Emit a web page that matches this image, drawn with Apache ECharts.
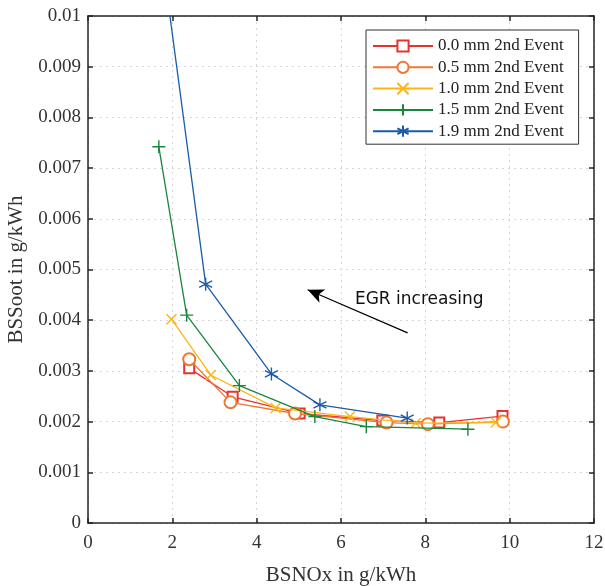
<!DOCTYPE html>
<html>
<head>
<meta charset="utf-8">
<script src="https://cdn.jsdelivr.net/npm/echarts@6/dist/echarts.min.js"></script>
<style>html,body{margin:0;padding:0;background:#fff}#c{width:605px;height:586px}</style>
</head>
<body>
<div id="c"></div>
<script>
const seriesNames = ['0.0 mm 2nd Event','0.5 mm 2nd Event','1.0 mm 2nd Event','1.5 mm 2nd Event','1.9 mm 2nd Event'];
const nox00 = [2.40, 3.43, 5.02, 6.98, 8.33, 9.83];
const soot00 = [0.00305, 0.00249, 0.00216, 0.00202, 0.00198, 0.00211];
const nox05 = [2.40, 3.38, 4.91, 7.08, 8.06, 9.84];
const soot05 = [0.00323, 0.00238, 0.00216, 0.00198, 0.00195, 0.00200];
const nox10 = [1.98, 2.91, 4.45, 6.21, 7.77, 9.67];
const soot10 = [0.00402, 0.00292, 0.00227, 0.00210, 0.00197, 0.00198];
const nox15 = [1.68, 2.34, 3.59, 5.38, 6.60, 9.01];
const soot15 = [0.00742, 0.00410, 0.00271, 0.00210, 0.00190, 0.00185];
const nox19 = [1.90, 2.79, 4.35, 5.50, 7.57];
const soot19 = [0.01027, 0.00471, 0.00294, 0.00233, 0.00207];
const arrowFrom = [7.58, 0.00375];
const arrowTo = [5.21, 0.00460];
const annotationAt = [6.33, 0.00440];
const annotationText = 'EGR increasing';
const xLabelText = 'BSNOx in g/kWh';
const yLabelText = 'BSSoot in g/kWh';

const colors = ['#e5332e','#ee7733','#fdb515','#17873d','#1a5ca6'];
const symbols = [
  'emptyRect', 'emptyCircle',
  'path://M0,0L10,10M10,0L0,10',
  'path://M5,0L5,10M0,5L10,5',
  'path://M5,0L5,10M0.7,2.5L9.3,7.5M9.3,2.5L0.7,7.5'
];
const sizes = [10, 12, 10, 13, 13];
const xs = [nox00, nox05, nox10, nox15, nox19];
const ys = [soot00, soot05, soot10, soot15, soot19];

const serif = 'Liberation Serif';
const series = seriesNames.map((n, i) => {
  const isPath = symbols[i].startsWith('path');
  return {
    name: n, type: 'line', clip: true,
    data: xs[i].map((x, k) => [x, ys[i][k]]),
    symbol: symbols[i], symbolSize: sizes[i], showAllSymbol: true,
    lineStyle: {color: colors[i], width: 1.3},
    itemStyle: isPath ? {color: 'none', borderColor: colors[i], borderWidth: 1.4}
                      : {color: colors[i], borderColor: colors[i], borderWidth: 1.2},
    emphasis: {disabled: true},
    z: 3 + i
  };
});
series.push({
  type: 'line', data: [], silent: true,
  markLine: {
    silent: true, symbol: ['none', 'arrow'], symbolSize: [11, 16],
    label: {show: false},
    lineStyle: {color: '#000', width: 1.2, type: 'solid'},
    data: [[{coord: arrowFrom}, {coord: arrowTo}]]
  }
});

const lineCol = '#262626';
function edgeAxis(extra) {
  return Object.assign({
    axisLine: {show: true, onZero: false, lineStyle: {color: lineCol, width: 1.5}},
    axisTick: {show: true, inside: true, length: 5, lineStyle: {color: lineCol, width: 1.5}},
  }, extra);
}
const chart = echarts.init(document.getElementById('c'), null, {renderer: 'canvas'});
const axisText = {fontFamily: serif, fontSize: 19, color: '#333'};
const split = {show: true, lineStyle: {color: '#d6d6d6', type: [2, 4], width: 1}};
chart.setOption({
  animation: false,
  grid: {left: 88, right: 11, top: 16, bottom: 63, outerBoundsMode: 'none', containLabel: false},
  legend: {
    show: true, data: seriesNames, orient: 'vertical',
    left: 366, top: 30,
    backgroundColor: '#fff', borderColor: '#333', borderWidth: 1,
    padding: [7.5, 15, 4.5, 6], itemGap: 4.3, itemWidth: 60, itemHeight: 14,
    textStyle: {fontFamily: serif, fontSize: 17, lineHeight: 17, color: '#222'}
  },
  xAxis: [edgeAxis({
    type: 'value', min: 0, max: 12, interval: 2,
    name: xLabelText, nameLocation: 'middle', nameGap: 42,
    nameTextStyle: {fontFamily: serif, fontSize: 21, color: '#333'},
    axisLabel: Object.assign({margin: 11}, axisText),
    splitLine: split
  }), edgeAxis({
    type: 'value', min: 0, max: 12, interval: 2, position: 'top',
    axisLabel: {show: false}, splitLine: {show: false}
  })],
  yAxis: [edgeAxis({
    type: 'value', min: 0, max: 0.01, interval: 0.001,
    name: yLabelText, nameLocation: 'middle', nameGap: 58,
    nameTextStyle: {fontFamily: serif, fontSize: 21, color: '#333'},
    axisLabel: Object.assign({margin: 7, formatter: v => String(+v.toFixed(3))}, axisText),
    splitLine: split
  }), edgeAxis({
    type: 'value', min: 0, max: 0.01, interval: 0.001, position: 'right',
    axisLabel: {show: false}, splitLine: {show: false}
  })],
  series: series
});
const p = chart.convertToPixel({xAxisIndex: 0, yAxisIndex: 0}, annotationAt);
chart.setOption({
  graphic: [{
    type: 'text', x: p[0], y: p[1], z: 10,
    style: {text: annotationText, font: '17px "DejaVu Sans"', fill: '#111', align: 'left', verticalAlign: 'middle'}
  }]
});
</script>
</body>
</html>
